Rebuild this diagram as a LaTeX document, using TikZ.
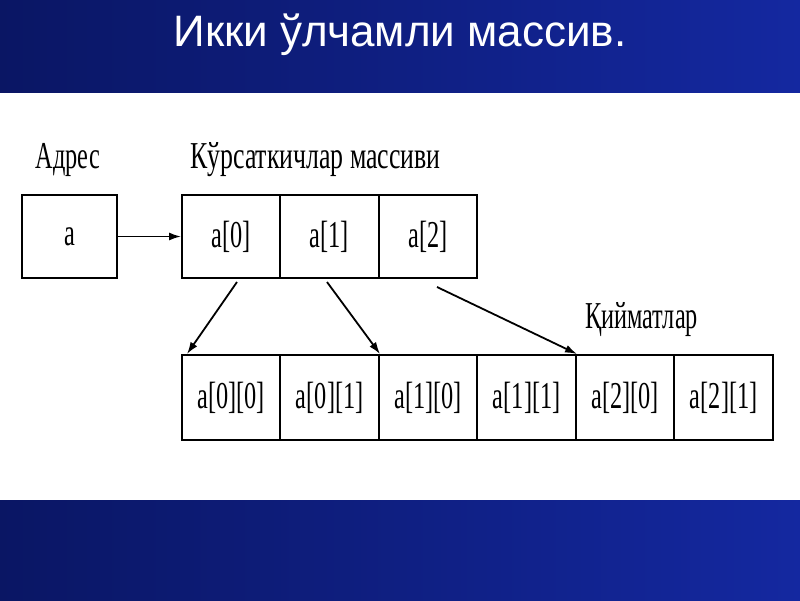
\documentclass[tikz,border=0pt]{standalone}
\usepackage{fontspec}
\setmainfont{Liberation Serif}
\newfontfamily\titlefont{Liberation Sans}
\usetikzlibrary{arrows.meta}
\definecolor{bandA}{RGB}{10,22,100}
\definecolor{bandB}{RGB}{20,40,160}
\newcommand{\nar}[1]{\scalebox{0.64}[1]{#1}}
\begin{document}
\begin{tikzpicture}[x=1pt,y=-1pt,
  box/.style={draw,line width=2pt,minimum height=83pt,inner sep=0pt,font=\fontsize{38}{38}\selectfont},
  lbl/.style={font=\fontsize{38}{38}\selectfont,inner sep=0pt},
  arr/.style={-{Latex[length=12pt,width=8pt]},line width=1.8pt}]
\useasboundingbox (0,0) rectangle (800,600);
\shade[left color=bandA,right color=bandB] (0,0) rectangle (800,92);
\shade[left color=bandA,right color=bandB] (0,500) rectangle (800,600);
\node[text=white,font=\titlefont\fontsize{44}{44}\selectfont] (title) at (400,35) {Икки ўлчамли массив.};
\node[lbl] (ladr) at (68,160) {\nar{Адрес}};
\node[lbl,anchor=west] (lptr) at (190,160) {\scalebox{0.68}[1]{Кўрсаткичлар массиви}};
\node[lbl,anchor=west] (lval) at (585,320) {\nar{Қийматлар}};
\node[box,minimum width=95pt] (a) at (69.5,236.5) {\nar{a}};
\foreach \t [count=\i from 0] in {a[0],a[1],a[2]}{
  \node[box,minimum width=98.3pt] (p\i) at (231.2+98.3*\i,236.5) {\nar{\t}};
}
\foreach \t [count=\i from 0] in {a[0][0],a[0][1],a[1][0],a[1][1],a[2][0],a[2][1]}{
  \node[box,minimum width=98.5pt,minimum height=85pt] (v\i) at (231.2+98.5*\i,397.5) {\nar{\t}};
}
\draw[arr] (a.east) -- (p0.west);
\coordinate (s0) at (237,282);
\coordinate (s1) at (327,282);
\coordinate (s2) at (437,287);
\coordinate (e0) at (187,354);
\coordinate (e1) at (380,354);
\coordinate (e2) at (577,354);
\draw[arr] (s0) -- (e0);
\draw[arr] (s1) -- (e1);
\draw[arr] (s2) -- (e2);
\end{tikzpicture}
\end{document}
